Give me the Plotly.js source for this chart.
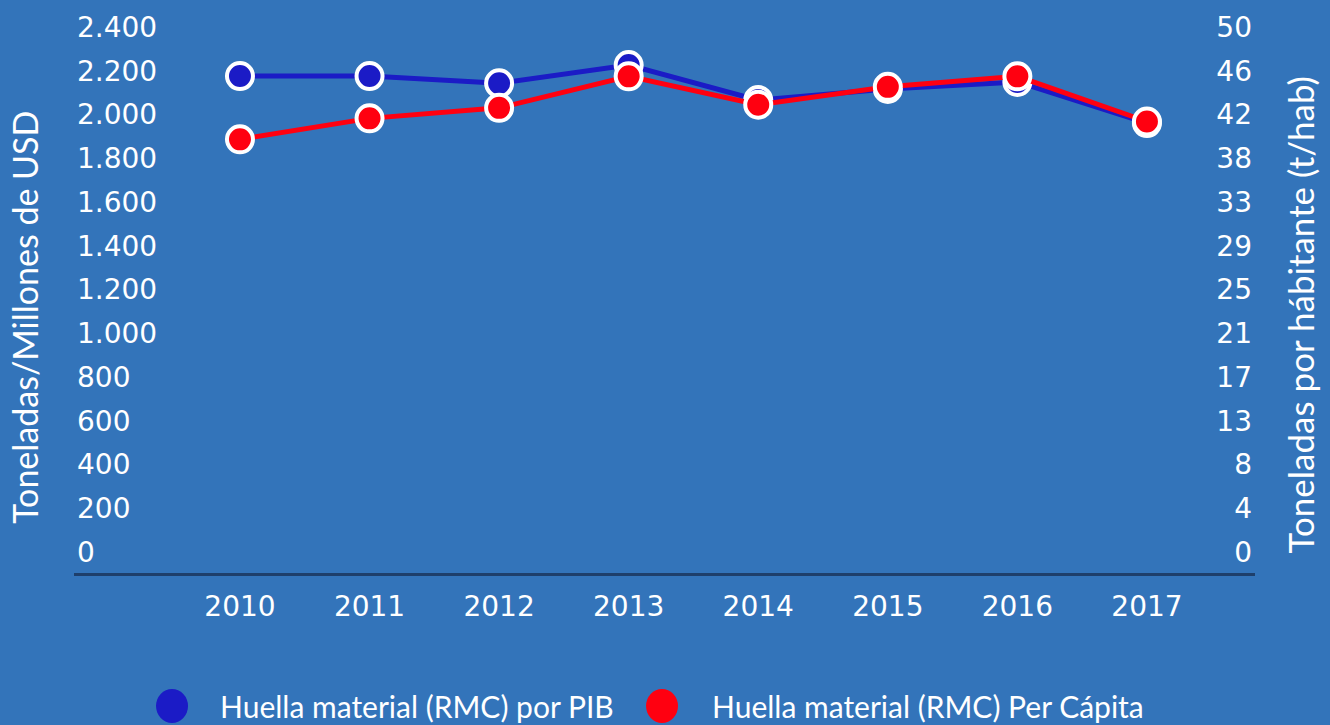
<!DOCTYPE html>
<html>
<head>
<meta charset="utf-8">
<script src="https://cdn.plot.ly/plotly-3.0.1.min.js"></script>
<style>
html,body{margin:0;padding:0;background:#3374BA;}
#chart{width:1330px;height:725px;}
</style>
</head>
<body>
<div id="chart"></div>
<script>
// Data
var years = ['2010','2011','2012','2013','2014','2015','2016','2017'];
var rmcPorPib = [2176, 2176, 2143, 2226, 2066, 2117, 2149, 1961];
var rmcPerCapita = [39.3, 41.3, 42.3, 45.3, 42.6, 44.3, 45.3, 41.0];
var leftTicks = [0,200,400,600,800,1000,1200,1400,1600,1800,2000,2200,2400];
var rightTickVals = [0,50/12,100/12,150/12,200/12,250/12,300/12,350/12,400/12,450/12,500/12,550/12,50];
var rightTickText = ['0','4','8','13','17','21','25','29','33','38','42','46','50'];
var seriesNames = ['Huella material (RMC) por PIB', 'Huella material (RMC) Per Cápita'];
var leftTitle = 'Toneladas/Millones de USD';
var rightTitle = 'Toneladas por hábitante (t/hab)';

var BLUE = '#1B1BC6';
var RED = '#FF0010';
var BG = '#3374BA';
var FONT = 'Lato, sans-serif';
var TICKFONT = 'DejaVu Sans, sans-serif';

var traces = [
  {
    x: years, y: rmcPorPib, type: 'scatter', mode: 'lines+markers',
    yaxis: 'y', showlegend: false, cliponaxis: false,
    line: {color: BLUE, width: 5},
    marker: {color: BLUE, size: 26, line: {color: '#ffffff', width: 4}}
  },
  {
    x: years, y: rmcPerCapita, type: 'scatter', mode: 'lines+markers',
    yaxis: 'y2', showlegend: false, cliponaxis: false,
    line: {color: RED, width: 5},
    marker: {color: RED, size: 26, line: {color: '#ffffff', width: 4}}
  },
  {
    x: [null], y: [null], type: 'scatter', mode: 'markers', name: seriesNames[0],
    marker: {color: 'rgba(0,0,0,0)', size: 16}
  },
  {
    x: [null], y: [null], type: 'scatter', mode: 'markers', name: seriesNames[1],
    marker: {color: 'rgba(0,0,0,0)', size: 16}
  }
];

function swatch(xp, color) {
  return {
    type: 'circle', xref: 'paper', yref: 'paper', layer: 'above',
    xsizemode: 'pixel', ysizemode: 'pixel', xanchor: xp, yanchor: -0.2362,
    x0: -16, x1: 16, y0: -17, y1: 17,
    fillcolor: color, line: {width: 0}
  };
}

var layout = {
  width: 1330, height: 725,
  paper_bgcolor: BG, plot_bgcolor: BG,
  separators: ',.',
  margin: {l: 74, r: 75, t: 10, b: 152, autoexpand: false},
  font: {family: FONT, color: '#ffffff', size: 27},
  showlegend: true,
  legend: {
    orientation: 'h', x: 0.0898, y: -0.2375, xanchor: 'left', yanchor: 'middle',
    font: {family: FONT, size: 30, color: '#ffffff'},
    bgcolor: 'rgba(0,0,0,0)', entrywidth: 447, borderwidth: 0
  },
  xaxis: {
    type: 'category', range: [-1.281, 7.834],
    showgrid: false, zeroline: false,
    showline: true, linecolor: '#1E3F6B', linewidth: 3,
    ticks: '', tickfont: {family: TICKFONT, size: 28, color: '#ffffff'},
    ticklabelstandoff: 6
  },
  yaxis: {
    range: [-96, 2478], tickvals: leftTicks, tickformat: ',d',
    showgrid: false, zeroline: false, showline: false, ticks: '',
    ticklabelposition: 'inside', ticklabeloverflow: 'allow',
    tickfont: {family: TICKFONT, size: 28, color: '#ffffff'}
  },
  yaxis2: {
    range: [-2, 51.62], overlaying: 'y', side: 'right',
    tickvals: rightTickVals, ticktext: rightTickText,
    showgrid: false, zeroline: false, showline: false, ticks: '',
    ticklabelposition: 'inside', ticklabeloverflow: 'allow',
    tickfont: {family: TICKFONT, size: 28, color: '#ffffff'}
  },
  shapes: [swatch(0.0830, BLUE), swatch(0.4979, RED)],
  annotations: [
    {text: leftTitle, xref: 'paper', yref: 'paper', x: -0.0415, y: 0.455,
     xanchor: 'center', yanchor: 'middle', textangle: -90, showarrow: false,
     font: {family: FONT, size: 34, color: '#ffffff'}},
    {text: rightTitle, xref: 'paper', yref: 'paper', x: 1.038, y: 0.459,
     xanchor: 'center', yanchor: 'middle', textangle: -90, showarrow: false,
     font: {family: FONT, size: 35, color: '#ffffff'}}
  ]
};

Plotly.newPlot('chart', traces, layout, {displayModeBar: false, responsive: false});
</script>
</body>
</html>
